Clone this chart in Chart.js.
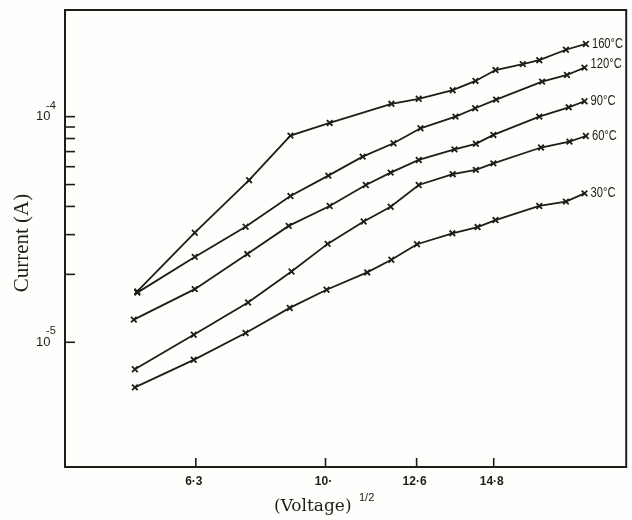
<!DOCTYPE html>
<html lang="en">
<head>
<meta charset="UTF-8">
<title>Current vs (Voltage)^1/2</title>
<script src="https://cdn.jsdelivr.net/npm/chart.js"></script>
<style>
  html, body { margin: 0; padding: 0; background: #fff; }
  #wrap { width: 632px; height: 520px; position: relative; }
</style>
</head>
<body>
<div id="wrap"><canvas id="ivChart"></canvas></div>
<script>
// square root of the applied voltage for each reading, and the measured current (A)
const sqrtV160 = [4.63, 6.27, 7.82, 9.00, 10.12, 11.88, 12.66, 13.63, 14.28, 14.85, 15.63, 16.10, 16.86, 17.43];
const current160 = [1.68e-5, 3.06e-5, 5.23e-5, 8.24e-5, 9.38e-5, 1.14e-4, 1.20e-4, 1.31e-4, 1.44e-4, 1.61e-4, 1.71e-4, 1.78e-4, 1.98e-4, 2.10e-4];

const sqrtV120 = [4.63, 6.27, 7.72, 9.00, 10.08, 11.06, 11.94, 12.71, 13.71, 14.27, 14.87, 16.18, 16.89, 17.39];
const current120 = [1.66e-5, 2.39e-5, 3.25e-5, 4.45e-5, 5.48e-5, 6.65e-5, 7.62e-5, 8.88e-5, 1.00e-4, 1.09e-4, 1.19e-4, 1.43e-4, 1.53e-4, 1.65e-4];

const sqrtV90 = [4.53, 6.27, 7.77, 8.95, 10.12, 11.15, 11.86, 12.66, 13.68, 14.29, 14.79, 16.10, 16.94, 17.39];
const current90 = [1.26e-5, 1.72e-5, 2.46e-5, 3.28e-5, 4.02e-5, 4.98e-5, 5.65e-5, 6.43e-5, 7.16e-5, 7.58e-5, 8.30e-5, 1.00e-4, 1.10e-4, 1.17e-4];

const sqrtV60 = [4.56, 6.24, 7.79, 9.03, 10.06, 11.09, 11.86, 12.66, 13.63, 14.29, 14.79, 16.15, 16.96, 17.43];
const current60 = [7.59e-6, 1.08e-5, 1.50e-5, 2.06e-5, 2.73e-5, 3.43e-5, 3.99e-5, 4.98e-5, 5.56e-5, 5.81e-5, 6.21e-5, 7.30e-5, 7.75e-5, 8.21e-5];

const sqrtV30 = [4.56, 6.24, 7.72, 8.98, 10.03, 11.19, 11.88, 12.61, 13.62, 14.34, 14.85, 16.10, 16.86, 17.39];
const current30 = [6.31e-6, 8.36e-6, 1.10e-5, 1.42e-5, 1.71e-5, 2.04e-5, 2.32e-5, 2.72e-5, 3.04e-5, 3.24e-5, 3.48e-5, 4.02e-5, 4.20e-5, 4.57e-5];

const curveLabels = ['160\u00b0C', '120\u00b0C', '90\u00b0C', '60\u00b0C', '30\u00b0C'];

// axis marks
const xTickValues = [6.3, 10, 12.6, 14.8];
const xTickLabels = ['6\u00b73', '10\u00b7', '12\u00b76', '14\u00b78'];
const yDecadeValues = [1e-4, 1e-5];
const yDecadeExponents = ['-4', '-5'];
const yMinorValues = [2e-5, 3e-5, 4e-5, 5e-5, 6e-5, 7e-5, 8e-5, 9e-5];

const INK = '#1a2018';

function toPoints(xs, ys) {
  return xs.map((x, i) => ({ x: x, y: ys[i] }));
}

const series = [
  [sqrtV160, current160],
  [sqrtV120, current120],
  [sqrtV90, current90],
  [sqrtV60, current60],
  [sqrtV30, current30]
];

// frame, inward ticks, tick labels, titles and curve labels
const paperAxes = {
  id: 'paperAxes',
  beforeDraw(chart) {
    const ctx = chart.ctx;
    ctx.save();
    ctx.fillStyle = '#fefefc';
    ctx.fillRect(0, 0, chart.width, chart.height);
    ctx.restore();
  },
  afterDraw(chart) {
    const ctx = chart.ctx;
    const area = chart.chartArea;
    const xs = chart.scales.x;
    const ys = chart.scales.y;
    ctx.save();
    ctx.strokeStyle = INK;
    ctx.fillStyle = INK;

    ctx.lineWidth = 2;
    ctx.strokeRect(area.left, area.top, area.right - area.left, area.bottom - area.top);

    // x ticks and labels
    ctx.lineWidth = 1.6;
    ctx.font = 'bold 12px "Liberation Sans", Arial, sans-serif';
    ctx.textAlign = 'center';
    ctx.textBaseline = 'middle';
    xTickValues.forEach((v, i) => {
      const px = xs.getPixelForValue(v);
      ctx.beginPath();
      ctx.moveTo(px, area.bottom);
      ctx.lineTo(px, area.bottom - 9);
      ctx.stroke();
      ctx.fillText(xTickLabels[i], px - 2, area.bottom + 15);
    });

    // y ticks
    yDecadeValues.concat(yMinorValues).forEach(v => {
      const py = ys.getPixelForValue(v);
      ctx.beginPath();
      ctx.moveTo(area.left, py);
      ctx.lineTo(area.left + 10, py);
      ctx.stroke();
    });

    // decade labels
    yDecadeValues.forEach((v, i) => {
      const py = ys.getPixelForValue(v);
      ctx.textAlign = 'left';
      ctx.font = '13px "Liberation Sans", Arial, sans-serif';
      ctx.fillText('10', 36, py);
      ctx.font = '11px "Liberation Sans", Arial, sans-serif';
      ctx.fillText(yDecadeExponents[i], 46, py - 11);
    });

    // axis titles
    ctx.font = '21px "Liberation Serif", "Times New Roman", serif';
    ctx.textAlign = 'center';
    ctx.save();
    ctx.translate(22, 243);
    ctx.rotate(-Math.PI / 2);
    ctx.fillText('Current (A)', 0, 0);
    ctx.restore();

    ctx.font = '17px "DejaVu Serif", "Liberation Serif", serif';
    ctx.textAlign = 'left';
    ctx.fillText('(Voltage)', 274, 507);
    ctx.font = '11px "Liberation Sans", Arial, sans-serif';
    ctx.fillText('1/2', 359, 498);

    // temperature next to the last reading of each curve, set narrow
    ctx.font = '14px "Liberation Sans", Arial, sans-serif';
    ctx.textAlign = 'left';
    series.forEach(([vx, cy], i) => {
      const n = vx.length - 1;
      const px = xs.getPixelForValue(vx[n]);
      const py = ys.getPixelForValue(cy[n]);
      ctx.save();
      ctx.translate(px + 6, py - (i === 1 ? 3 : 0));
      ctx.scale(0.8, 1);
      ctx.fillText(curveLabels[i], 0, 0);
      ctx.restore();
    });

    ctx.restore();
  }
};

new Chart(document.getElementById('ivChart'), {
  type: 'line',
  data: {
    datasets: series.map(([vx, cy], i) => ({
      label: curveLabels[i],
      data: toPoints(vx, cy),
      borderColor: INK,
      borderWidth: 1.8,
      pointStyle: 'crossRot',
      pointRadius: 4,
      pointBorderWidth: 1.8,
      pointBorderColor: INK,
      tension: 0,
      fill: false
    }))
  },
  options: {
    responsive: true,
    maintainAspectRatio: false,
    animation: false,
    layout: { padding: { left: 65, top: 10, right: 5, bottom: 53 } },
    plugins: { legend: { display: false }, tooltip: { enabled: false } },
    scales: {
      x: { type: 'linear', min: 2.567, max: 18.58, display: false },
      y: { type: 'logarithmic', min: 2.80e-6, max: 2.97e-4, display: false }
    }
  },
  plugins: [paperAxes]
});
</script>
</body>
</html>
